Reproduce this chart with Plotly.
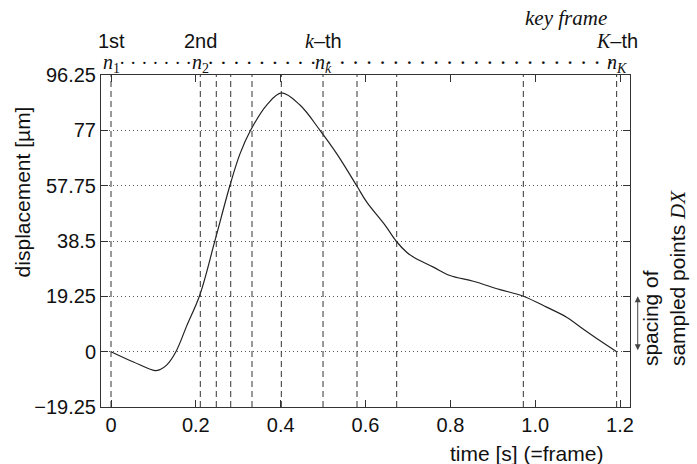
import plotly.graph_objects as go

# ---- data ----
t = [0, 0.053, 0.104, 0.116, 0.131, 0.153, 0.178, 0.21, 0.245, 0.2805, 0.304, 0.329,
     0.367, 0.402, 0.4455, 0.4927, 0.532, 0.579, 0.603, 0.646, 0.672, 0.697, 0.7127,
     0.760, 0.799, 0.854, 0.917, 0.972, 1.027, 1.074, 1.113, 1.153, 1.192]
disp = [0, -3.6, -6.6, -6.2, -4.7, 0.0, 8.8, 20.0, 38.6, 57.9, 68.8, 77.0,
        85.8, 90.0, 85.8, 77.0, 68.9, 57.8, 52.0, 44.0, 38.5, 34.6, 32.9,
        29.4, 26.5, 24.5, 21.6, 19.3, 15.5, 12.0, 7.9, 3.8, 0]
key_frames = [0, 0.2105, 0.2482, 0.2822, 0.3324, 0.4015, 0.4998, 0.5799, 0.6735, 0.972, 1.192]
x_ticks = [0, 0.2, 0.4, 0.6, 0.8, 1.0, 1.2]
x_tick_text = ["0", "0.2", "0.4", "0.6", "0.8", "1.0", "1.2"]
y_ticks = [-19.25, 0, 19.25, 38.5, 57.75, 77, 96.25]
y_tick_text = ["\u221219.25", "0", "19.25", "38.5", "57.75", "77", "96.25"]
labelled = [0, 1, 6, 10]  # indices of key frames that carry labels
order_labels = ["1st", "2nd",
                "<span style='font-family:Liberation Serif;font-style:italic'>k</span>\u2013th",
                "<span style='font-family:Liberation Serif;font-style:italic'>K</span>\u2013th"]
n_subs = ["1", "2", "<i>k</i>", "<i>K</i>"]
dot_counts = [7, 9, 22]       # dots drawn between consecutive labelled frames
dot_sizes = [19, 22, 23]

SANS = "Liberation Sans, Arial, sans-serif"
SERIF = "Liberation Serif, Times New Roman, serif"
FS = 20

fig = go.Figure()
fig.add_trace(go.Scatter(x=t, y=disp, mode="lines", line=dict(color="#222", width=1.2, shape="spline", smoothing=1.0),
                         showlegend=False, hoverinfo="skip"))

shapes = []
for k in key_frames:
    shapes.append(dict(type="line", xref="x", yref="paper", x0=k, x1=k, y0=0, y1=1,
                       line=dict(color="#333", width=1, dash="6px,4px"), layer="above"))

ann = []
for j, i in enumerate(labelled):
    ann.append(dict(x=key_frames[i], y=1.102, xref="x", yref="paper", text=order_labels[j], showarrow=False,
                    xanchor="center", yanchor="middle", font=dict(family=SANS, size=FS, color="#111")))
    ann.append(dict(x=key_frames[i], y=1.034, xref="x", yref="paper",
                    text="<i>n</i><sub>" + n_subs[j] + "</sub>", showarrow=False, borderpad=0,
                    xanchor="center", yanchor="middle", font=dict(family=SERIF, size=FS, color="#111")))
for j in range(len(labelled) - 1):
    a, b = key_frames[labelled[j]], key_frames[labelled[j + 1]]
    ann.append(dict(x=(a + b) / 2, y=1.038, xref="x", yref="paper", text=" ".join(["\u00b7"] * dot_counts[j]),
                    showarrow=False, xanchor="center", yanchor="middle", borderpad=0,
                    font=dict(family=SERIF, size=dot_sizes[j], color="#111")))
ann.append(dict(x=1.0726, y=1.172, xref="x", yref="paper", text="<i>key frame</i>", showarrow=False,
                xanchor="center", yanchor="middle", font=dict(family=SERIF, size=FS + 1, color="#111")))
ann.append(dict(x=-0.149, y=0.647, xref="paper", yref="paper", text="displacement [\u00b5m]", textangle=-90,
                showarrow=False, xanchor="center", yanchor="middle", font=dict(family=SANS, size=FS + 1, color="#111")))
ann.append(dict(x=0.805, y=-0.1396, xref="paper", yref="paper", text="time [s] (=frame)",
                showarrow=False, xanchor="center", yanchor="middle", font=dict(family=SANS, size=FS + 1, color="#111")))
ann.append(dict(x=1.064, y=0.1167, xref="paper", yref="paper",
                text="spacing of<br>sampled points <span style='font-family:Liberation Serif;font-style:italic'>DX</span>",
                textangle=-90, showarrow=False, xanchor="center", yanchor="bottom", align="left",
                font=dict(family=SANS, size=FS + 1, color="#111")))
# double arrow showing spacing
ann.append(dict(x=1.0146, y=y_ticks[2], xref="paper", yref="y", ax=0, ay=y_ticks[1], axref="pixel", ayref="y",
                showarrow=True, arrowhead=2, startarrowhead=2, arrowside="end+start", arrowsize=1.2,
                startarrowsize=1.2, arrowwidth=1, arrowcolor="#444", text=""))

axis_common = dict(showline=True, linecolor="#333", linewidth=1, mirror="ticks", ticks="inside",
                   ticklen=7, tickcolor="#333", tickwidth=1, zeroline=False,
                   tickfont=dict(family=SANS, size=FS, color="#111"))
fig.update_layout(
    width=697, height=464, margin=dict(l=101, r=67, t=75, b=57),
    paper_bgcolor="white", plot_bgcolor="white",
    xaxis=dict(range=[-0.0236, 1.2235], tickvals=x_ticks, ticktext=x_tick_text, showgrid=False, **axis_common),
    yaxis=dict(range=[-19.25, 96.25], tickvals=y_ticks, ticktext=y_tick_text, showgrid=True,
               gridcolor="#555", gridwidth=1, griddash="1px,3px", **axis_common),
    shapes=shapes, annotations=ann,
)
fig.write_html("out.html")
